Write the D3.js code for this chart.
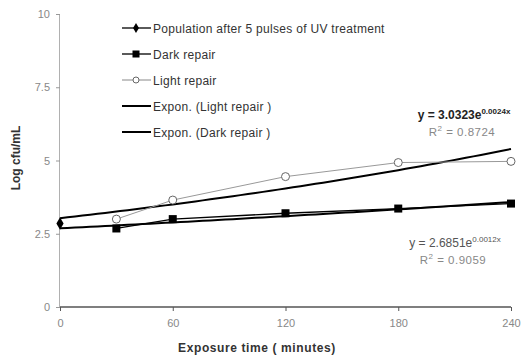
<!DOCTYPE html>
<html>
<head>
<meta charset="utf-8">
<script src="https://cdn.jsdelivr.net/npm/d3@7"></script>
<style>
  body { margin: 0; background: #fff; }
  text { font-family: "Liberation Sans", Arial, sans-serif; }
</style>
</head>
<body>
<svg id="chart" width="532" height="358"></svg>
<script>
// data
let populationTimes = [0]
let populationValues = [2.85]
let repairTimes = [30, 60, 120, 180, 240]
let darkValues = [2.68, 3.0, 3.2, 3.36, 3.53]
let lightValues = [3.0, 3.65, 4.45, 4.93, 4.97]
// exponential trendlines y = a * e^(b x), as printed on the chart
let lightFit = [3.0323, 0.0024, 0.8724]
let darkFit = [2.6851, 0.0012, 0.9059]
let xTicks = [0, 60, 120, 180, 240]
let yTicks = [0, 2.5, 5, 7.5, 10]
let legendLabels = ['Population after 5 pulses of UV treatment', 'Dark repair', 'Light repair',
  'Expon. (Light repair )', 'Expon. (Dark repair )']

const svg = d3.select('#chart')

let x = d3.scaleLinear().domain([0, 240]).range([60, 511])
let y = d3.scaleLinear().domain([0, 10]).range([307, 14])

// y axis
svg.append('g')
  .attr('transform', `translate(${x(0)},0)`)
  .call(d3.axisLeft(y).tickValues(yTicks).tickSize(4).tickPadding(6).tickFormat(d => d))
  .call(g => g.select('.domain').attr('stroke', '#b0b0b0').attr('d', `M-0.5,${y(10)}V${y(0)}`))
  .call(g => g.selectAll('.tick line').attr('stroke', '#999'))
  .call(g => g.selectAll('.tick text').attr('fill', '#888').style('font-size', '11px'))

// x axis
svg.append('g')
  .attr('transform', `translate(0,${y(0)})`)
  .call(d3.axisBottom(x).tickValues(xTicks).tickSize(4).tickPadding(8))
  .call(g => g.select('.domain').attr('stroke', '#555').attr('stroke-width', 1.5).attr('d', `M${x(0)},0H${x(240)}`))
  .call(g => g.selectAll('.tick line').attr('stroke', '#555'))
  .call(g => g.selectAll('.tick text').attr('fill', '#888').style('font-size', '11px'))

// axis titles
svg.append('text')
  .attr('transform', `translate(20,${158}) rotate(-90)`)
  .attr('text-anchor', 'middle')
  .attr('font-weight', 'bold')
  .attr('font-size', 12)
  .attr('fill', '#333')
  .text('Log cfu/mL')

svg.append('text')
  .attr('x', 257)
  .attr('y', 352)
  .attr('text-anchor', 'middle')
  .attr('font-weight', 'bold')
  .attr('font-size', 12)
  .attr('letter-spacing', 0.6)
  .attr('fill', '#333')
  .text('Exposure time ( minutes)')

// trendlines
let fitLine = d3.line().x(d => x(d[0])).y(d => y(d[1]))
let fitPoints = f => d3.range(0, 241, 4).map(t => [t, f[0] * Math.exp(f[1] * t)])

svg.append('path')
  .attr('d', fitLine(fitPoints(lightFit)))
  .attr('fill', 'none').attr('stroke', '#000').attr('stroke-width', 2)
svg.append('path')
  .attr('d', fitLine(fitPoints(darkFit)))
  .attr('fill', 'none').attr('stroke', '#000').attr('stroke-width', 2)

// data lines
let line = d3.line().x(d => x(d[0])).y(d => y(d[1]))
let light = d3.zip(repairTimes, lightValues)
let dark = d3.zip(repairTimes, darkValues)
let pop = d3.zip(populationTimes, populationValues)

svg.append('path')
  .attr('d', line(light))
  .attr('fill', 'none').attr('stroke', '#999').attr('stroke-width', 1)
svg.append('path')
  .attr('d', line(dark))
  .attr('fill', 'none').attr('stroke', '#000').attr('stroke-width', 1.3)

// markers
svg.append('g').selectAll('circle').data(light).join('circle')
  .attr('cx', d => x(d[0])).attr('cy', d => y(d[1])).attr('r', 4)
  .attr('fill', '#fff').attr('stroke', '#666').attr('stroke-width', 1)

svg.append('g').selectAll('rect').data(dark).join('rect')
  .attr('x', d => x(d[0]) - 4).attr('y', d => y(d[1]) - 4)
  .attr('width', 8).attr('height', 8).attr('fill', '#000')

let diamond = d3.symbol().type(d3.symbolDiamond).size(45)
svg.append('g').selectAll('path').data(pop).join('path')
  .attr('transform', d => `translate(${x(d[0])},${y(d[1])})`)
  .attr('d', diamond).attr('fill', '#000')

// equations
let eq = (g, f, cx, cy, bold) => {
  let t = g.append('text').attr('x', cx).attr('y', cy).attr('text-anchor', 'middle')
    .attr('font-size', 12).attr('fill', bold ? '#222' : '#555')
    .attr('font-weight', bold ? 'bold' : 'normal')
  t.append('tspan').text(`y = ${f[0]}e`)
  t.append('tspan').attr('dy', -5).attr('font-size', 8).text(`${f[1]}x`)
  let r = g.append('text').attr('x', cx - 2).attr('y', cy + 17).attr('text-anchor', 'middle')
    .attr('font-size', 11.5).attr('fill', '#888').attr('letter-spacing', 0.5)
  r.append('tspan').text('R')
  r.append('tspan').attr('dy', -5).attr('font-size', 8).text('2')
  r.append('tspan').attr('dy', 5).text(` = ${f[2]}`)
}
eq(svg, lightFit, 464, 119, true)
eq(svg, darkFit, 455, 247, false)

// legend
let legend = svg.append('g')
  .selectAll('g').data(legendLabels).join('g')
  .attr('transform', (d, i) => `translate(122,${28 + i * 26})`)

legend.append('line')
  .attr('x1', 0).attr('x2', 29).attr('y1', 0).attr('y2', 0)
  .attr('stroke', (d, i) => i === 2 ? '#888' : '#000')
  .attr('stroke-width', (d, i) => i >= 3 ? 2 : (i === 2 ? 1 : 1.3))

legend.each(function(d, i) {
  let g = d3.select(this)
  if (i === 0) g.append('path').attr('transform', 'translate(14,0)').attr('d', d3.symbol().type(d3.symbolDiamond).size(30)).attr('fill', '#000')
  if (i === 1) g.append('rect').attr('x', 10.5).attr('y', -3.5).attr('width', 7).attr('height', 7).attr('fill', '#000')
  if (i === 2) g.append('circle').attr('cx', 14).attr('cy', 0).attr('r', 3).attr('fill', '#fff').attr('stroke', '#666')
})

legend.append('text')
  .attr('x', 31).attr('y', 4.5)
  .attr('font-size', 12).attr('letter-spacing', 0.3).attr('fill', '#333')
  .text(d => d)
</script>
</body>
</html>
